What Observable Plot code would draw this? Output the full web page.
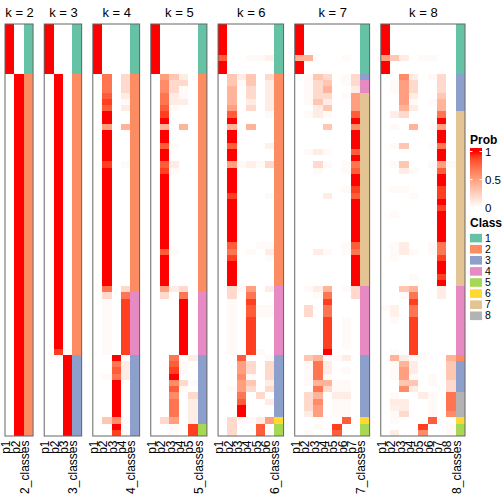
<!DOCTYPE html>
<html><head><meta charset="utf-8">
<script src="https://cdn.jsdelivr.net/npm/d3@7"></script>
<script src="https://cdn.jsdelivr.net/npm/@observablehq/plot@0.6"></script>
<style>
body{margin:0;background:#fff;}
#chart{position:relative;width:504px;height:504px;font-family:"Liberation Sans",Arial,sans-serif;}
</style></head><body><div id="chart"></div>
<script>
// Row groups: [rows 0-7] [8-17] [18-27] [28-37] [38-47] [48-57] [58-65]
// Codes: 0=0, .=0.03, :=0.08, 1..9 = 0.1..0.9, X=1
const k2 = [
  "XXXXXXXX 0000000000 0000000000 0000000000 0000000000 0000000000 00000000",
  "00000000 XXXXXXXXXX XXXXXXXXXX XXXXXXXXXX XXXXXXXXXX XXXXXXXXXX XXXXXXXX"];
const cls2 = "11111111 2222222222 2222222222 2222222222 2222222222 2222222222 22222222";

const k3 = [
  "XXXXXXXX 0000000000 0000000000 0000000000 0000000000 0000000000 00000000",
  "00000000 XXXXXXXXXX XXXXXXXXXX XXXXXXXXXX XXXXXXXXXX XXXX900000 00000000",
  "00000000 0000000000 0000000000 0000000000 0000000000 0000.XXXXX XXXXXXXX"];
const cls3 = "11111111 2222222222 2222222222 2222222222 2222222222 2222233333 33333333";

const k4 = [
  "XXXXXXXX 0000000000 0000000000 0000000000 0000000000 0000000000 00000000",
  "00000000 777898XX5X XXXX9XXXXX XXXXXXXXXX XXXX72.... .....000.0 00000300",
  "00000000 0000000000 0000000000 0000000000 0000000000 00000X787X XXXXX6X9",
  "00000000 2221.10040 0000.00000 0000000000 0000279999 9999901110 00000.0."];
const cls4 = "11111111 2222222222 2222222222 2222222222 2222244444 4444433333 33333333";

const k5 = [
  "XXXXXXXX 0000000000 0000000000 0000000000 0000000000 0000000000 00000000",
  "00000000 5667789X4X X8XX89XXXX XXXXXXXX8X XXXX520000 0000000000 00000200",
  "00000000 32211.0000 0.001.0000 00000000.0 0000100000 00000789X6 867775..",
  "00000000 12..100040 0000000000 0000000000 000027XXXX XXXXX0..02 .0000000",
  "00000000 0000000000 0000000000 0000000000 0000000000 000001000. 02111199"];
const cls5 = "11111111 2222222222 2222222222 2222222222 2222244444 4444433333 33333355";

const k6 = [
  "XXXXX8XX 0000000000 0000000000 0000000000 0000000000 0000000000 00000000",
  "00000000 3344458X4X X8XX5XXXX9 XXXXXXX879 XXXX22.... .....00000 .0000222",
  "00000000 1.00000000 0000.00000 0000000000 0000.00000 0000085565 578XX.00",
  "00000.00 3322120040 0000:00000 00000000.0 0000579889 99999022.3 20000.00",
  "00000.00 0000000000 0000.00000 0000000.00 0000000..0 0000.00000 02000188",
  "00000:00 211111.000 0:0020000. 0000000.1. 0000100..0 00000.2221 20100500"];
const cls6 = "11111111 2222222222 2222222222 2222222222 2222444444 4444433333 33333655";

const k7 = [
  "XXXXX4XX 0000000000 0000000000 0000000000 0000000000 0000000000 00000000",
  "00000400 .....0.000 00.0000000 0000000000 0000.00220 000003.... 0222100.",
  "00000000 3222311000 00102.0000 0000000010 00001.0000 0000047774 746550.0",
  "00000000 234213.030 00.0.00001 00000000.0 0000479779 9999X.11.4 20000000",
  "00000000 0000000000 0000000000 0000000000 0000000000 00000.000. .1...098",
  "00000.00 ..0.000000 0000..00.0 0000000..0 0000.0000. ....010.0. .1...800",
  "00000000 2215558X6X XX8X78XX98 XXXXXXX87X XXXX220000 0000000000 00000000"];
const cls7 = "11111111 3447777777 7777777777 7777777777 7777444444 4444433333 33333655";

const k8 = [
  "XXXXX5XX 0000000000 0000000000 0000000000 0000000.00 0000000000 00000000",
  "00000300 0..00010.0 0.00.000.0 00.0000... 0000000::. 0000.4...0 0.1:..01",
  "00000100 6555542000 03003100.0 0000000110 00003.0000 0000014553 60112000",
  "00000000 1221.10040 00000.000. 00000000.0 00.0479779 99999.11.3 10000000",
  "00000.00 0000000000 0000000000 0000000000 0000000000 00000.0000 01000096",
  "00000.00 .000.000.0 0.00.00000 0000000..0 0000000000 00000000.. 0....800",
  "00000000 2223447X5X X7XX58XX99 X9XXXXX779 XX9X110000 0000000000 00000000",
  "00000000 0000000000 0000.00000 0000000000 0000000000 0000043332 277760.."];
const cls8 = "11111111 3333337777 7777777777 7777777777 7777444444 4444423333 38888655";

const classNames = ["1","2","3","4","5","6","7","8"];
const classColors = ["#66C2A5","#FC8D62","#8DA0CB","#E78AC3","#A6D854","#FFD92F","#E5C494","#B3B3B3"];
const legendTicks = [0, 0.5, 1];
const codeVals = {"0":0, ".":0.03, ":":0.08, "1":0.1, "2":0.2, "3":0.3, "4":0.4, "5":0.5, "6":0.6, "7":0.7, "8":0.8, "9":0.9, "X":1};

const probScale = Plot.scale({color: {type: "linear", domain: [0, 1], range: ["white", "red"], interpolate: "lab"}});
const classScale = Plot.scale({color: {type: "ordinal", domain: classNames, range: classColors}});

const panels = [[2,k2,cls2],[3,k3,cls3],[4,k4,cls4],[5,k5,cls5],[6,k6,cls6],[7,k7,cls7],[8,k8,cls8]];
const gap = 1.19;
const nRows = 66;
let start = 0;
const cells = [], labels = [], boxes = [], titles = [];
for (const [k, cols, cls] of panels) {
  cols.forEach((s, j) => {
    [...s.replace(/ /g, "")].forEach((c, i) => cells.push({x1: start + j, x2: start + j + 1, row: i, fill: probScale.apply(codeVals[c])}));
    labels.push({x: start + j + 0.5, text: "p" + (j + 1)});
  });
  [...cls.replace(/ /g, "")].forEach((c, i) => cells.push({x1: start + k, x2: start + k + 1, row: i, fill: classScale.apply(c)}));
  labels.push({x: start + k + 0.5, text: k + "_classes"});
  boxes.push({x1: start, x2: start + k + 1});
  titles.push({x: start + (k + 1) / 2, text: "k = " + k});
  start += k + 1 + gap;
}
const total = start - gap;

const chart = Plot.plot({
  width: 504, height: 504,
  marginTop: 24, marginBottom: 68, marginLeft: 5, marginRight: 39,
  x: {type: "linear", domain: [0, total], axis: null},
  y: {type: "band", domain: d3.range(nRows), padding: 0, round: false, axis: null},
  color: {type: "identity"},
  style: {fontFamily: "'Liberation Sans', Arial, sans-serif", fontSize: "12px", color: "black", background: "white"},
  marks: [
    Plot.barX(cells, {x1: "x1", x2: "x2", y: "row", fill: "fill", shapeRendering: "crispEdges"}),
    Plot.rect(boxes, {x1: "x1", x2: "x2", stroke: "#666", strokeWidth: 1, fill: "none"}),
    Plot.text(titles, {x: "x", text: "text", frameAnchor: "top", dy: -17, fontSize: 13, fill: "black"}),
    Plot.text(labels, {x: "x", text: "text", frameAnchor: "bottom", rotate: -90, textAnchor: "end", dy: 4, fontSize: 12, fill: "black"})
  ]
});
document.getElementById("chart").appendChild(chart);

// Legends
const lg = d3.select("#chart").append("svg")
  .attr("width", 504).attr("height", 504)
  .style("position", "absolute").style("left", "0px").style("top", "0px")
  .style("font-family", "'Liberation Sans', Arial, sans-serif");
const ly = d3.scaleLinear([0, 1], [207.7, 151.5]);
lg.append("text").attr("x", 470).attr("y", 144).attr("font-weight", "bold").attr("font-size", 12).text("Prob");
const grad = lg.append("defs").append("linearGradient").attr("id", "pg")
  .attr("gradientUnits", "userSpaceOnUse").attr("x1", 0).attr("x2", 0).attr("y1", ly(0)).attr("y2", ly(1));
d3.range(0, 11).forEach(i => grad.append("stop").attr("offset", i / 10).attr("stop-color", probScale.apply(i / 10)));
lg.append("rect").attr("x", 470).attr("y", 148).attr("width", 12).attr("height", ly(0) - 148).attr("fill", "url(#pg)");
legendTicks.forEach(t => {
  if (t > 0) {
    lg.append("line").attr("x1", 470).attr("x2", 472.5).attr("y1", ly(t)).attr("y2", ly(t)).attr("stroke", "white");
    lg.append("line").attr("x1", 479.5).attr("x2", 482).attr("y1", ly(t)).attr("y2", ly(t)).attr("stroke", "white");
  }
  lg.append("text").attr("x", 485).attr("y", ly(t)).attr("dy", "0.35em").attr("font-size", 11.5).text(String(t));
});
lg.append("text").attr("x", 470).attr("y", 227).attr("font-weight", "bold").attr("font-size", 12).text("Class");
classNames.forEach((c, i) => {
  const y0 = 233.8 + 11.1 * i;
  lg.append("rect").attr("x", 470).attr("y", y0).attr("width", 12).attr("height", 8.6).attr("fill", classScale.apply(c));
  lg.append("text").attr("x", 485).attr("y", y0 + 4.3).attr("dy", "0.35em").attr("font-size", 10.5).text(c);
});
</script></body></html>
